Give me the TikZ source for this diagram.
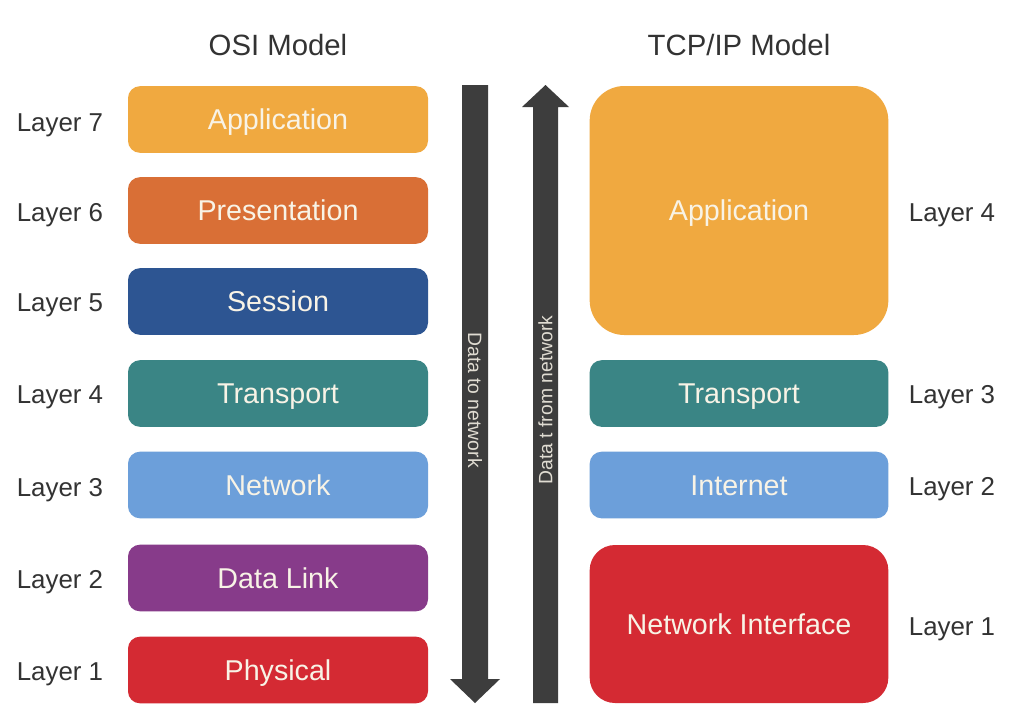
\documentclass[tikz,border=0pt]{standalone}
\usepackage{fontspec}
\setmainfont{Liberation Sans}
\definecolor{cApp}{HTML}{F0A940}
\definecolor{cPres}{HTML}{D96F36}
\definecolor{cSess}{HTML}{2D5592}
\definecolor{cTrans}{HTML}{3A8585}
\definecolor{cNet}{HTML}{6C9FDA}
\definecolor{cLink}{HTML}{873B8A}
\definecolor{cPhys}{HTML}{D42A33}
\definecolor{cArrow}{HTML}{3D3D3D}
\definecolor{cText}{HTML}{F8F3E6}
\definecolor{cLabel}{HTML}{333333}
\begin{document}
\begin{tikzpicture}[x=0.75pt,y=-0.75pt,
  osibox/.style={rectangle, rounded corners=9pt, minimum width=225pt, minimum height=50pt, inner sep=0pt, text=cText, font=\fontsize{21.5}{25}\selectfont, text height=15.4pt, text depth=0pt},
  tcpbox/.style={rectangle, minimum width=224pt, inner sep=0pt, text=cText, font=\fontsize{21.5}{25}\selectfont, text height=15.4pt, text depth=0pt},
  lbl/.style={text=cLabel, font=\fontsize{19.4}{23}\selectfont, inner sep=0pt, text height=13.9pt, text depth=0pt},
  ttl/.style={text=cLabel, font=\fontsize{22}{26}\selectfont, inner sep=0pt, text height=15.75pt, text depth=0pt},
  arrtxt/.style={text=cText!80!gray, font=\fontsize{14.5}{17}\selectfont, inner sep=0pt, text height=10.4pt, text depth=0pt}]
\useasboundingbox (0,0) rectangle (1020,726);
\fill[white] (0,0) rectangle (1020,726);
% titles
\node[ttl] (tosi) at (278,45) {OSI Model};
\node[ttl] (ttcp) at (739,45) {TCP/IP Model};
% OSI boxes
\node[osibox, fill=cApp] (o7) at (278,119.5) {Application};
\node[osibox, fill=cPres] (o6) at (278,210.5) {Presentation};
\node[osibox, fill=cSess] (o5) at (278,301.5) {Session};
\node[osibox, fill=cTrans] (o4) at (278,393.5) {Transport};
\node[osibox, fill=cNet] (o3) at (278,485) {Network};
\node[osibox, fill=cLink] (o2) at (278,578) {Data Link};
\node[osibox, fill=cPhys] (o1) at (278,670) {Physical};
% OSI labels
\node[lbl] (l7) at (60,122) {Layer 7};
\node[lbl] (l6) at (60,212) {Layer 6};
\node[lbl] (l5) at (60,302) {Layer 5};
\node[lbl] (l4) at (60,394) {Layer 4};
\node[lbl] (l3) at (60,487) {Layer 3};
\node[lbl] (l2) at (60,579) {Layer 2};
\node[lbl] (l1) at (60,671) {Layer 1};
% TCP/IP boxes
\node[tcpbox, fill=cApp, rounded corners=26pt, minimum height=186.75pt] (t4) at (739,210.5) {Application};
\node[tcpbox, fill=cTrans, rounded corners=9pt, minimum height=50pt] (t3) at (739,393.5) {Transport};
\node[tcpbox, fill=cNet, rounded corners=9pt, minimum height=50pt] (t2) at (739,485) {Internet};
\node[tcpbox, fill=cPhys, rounded corners=19pt, minimum height=118.5pt] (t1) at (739,624) {Network Interface};
% TCP/IP labels
\node[lbl] (r4) at (952,212) {Layer 4};
\node[lbl] (r3) at (952,394) {Layer 3};
\node[lbl] (r2) at (952,486) {Layer 2};
\node[lbl] (r1) at (952,626) {Layer 1};
% arrows
\fill[cArrow] (462,85) -- (488,85) -- (488,679) -- (500,679) -- (475,703) -- (450,679) -- (462,679) -- cycle;
\fill[cArrow] (533,703) -- (558,703) -- (558,107) -- (569,107) -- (545.5,85) -- (522,107) -- (533,107) -- cycle;
\node[arrtxt, rotate=-90] (a1) at (475,400) {Data to network};
\node[arrtxt, rotate=90] (a2) at (545.5,400) {Data t from network};
\end{tikzpicture}
\end{document}
